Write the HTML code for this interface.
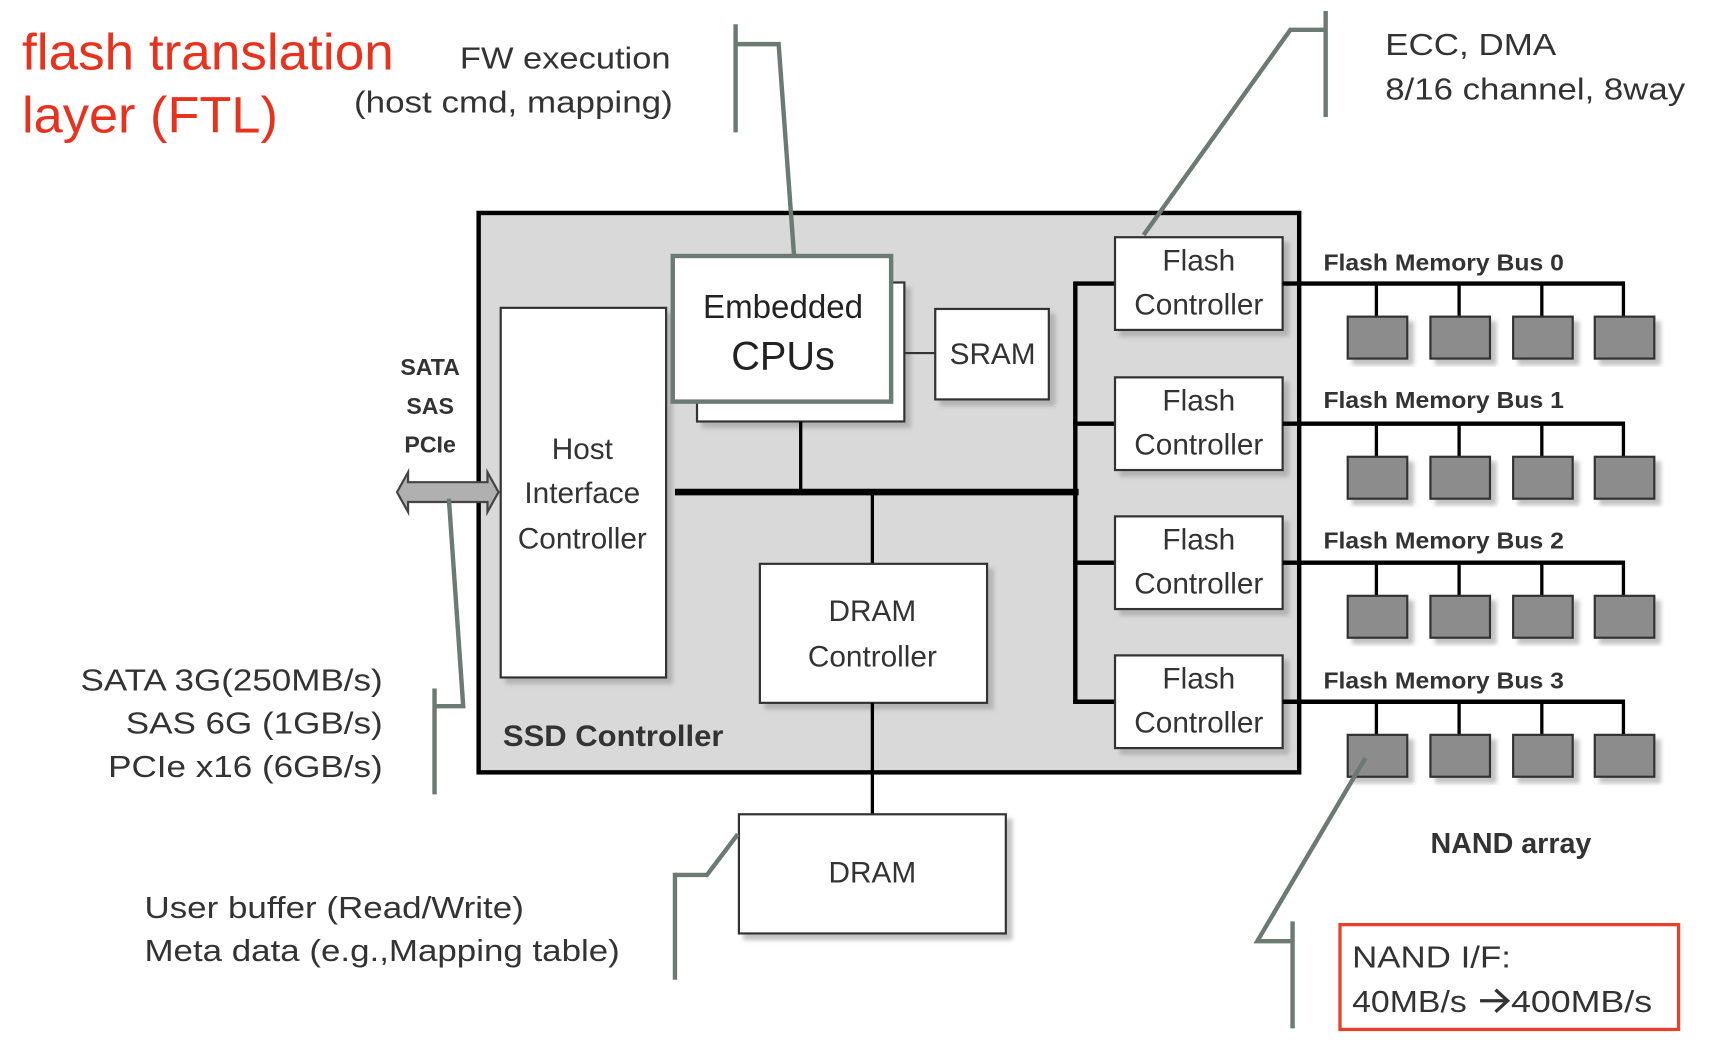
<!DOCTYPE html>
<html><head><meta charset="utf-8"><style>html,body{margin:0;padding:0;background:#fff}svg{display:block}</style></head>
<body>
<svg width="1726" height="1046" viewBox="0 0 1565 948" preserveAspectRatio="none" xmlns="http://www.w3.org/2000/svg" font-family="Liberation Sans, sans-serif">
<defs><filter id="sh" x="-10%" y="-10%" width="130%" height="130%"><feDropShadow dx="5" dy="5" stdDeviation="2" flood-color="#999" flood-opacity="0.6"/></filter></defs>
<rect width="1565" height="948" fill="#fff"/>
<text x="20" y="63" font-size="46" fill="#e8321e" textLength="337" lengthAdjust="spacingAndGlyphs">flash translation</text>
<text x="20" y="120" font-size="46" fill="#e8321e" textLength="232" lengthAdjust="spacingAndGlyphs">layer (FTL)</text>
<g font-size="28" fill="#333" lengthAdjust="spacingAndGlyphs">
<text x="417" y="62" textLength="191" lengthAdjust="spacingAndGlyphs">FW execution</text>
<text x="321" y="102" textLength="289" lengthAdjust="spacingAndGlyphs">(host cmd, mapping)</text>
<text x="1256" y="50" textLength="155" lengthAdjust="spacingAndGlyphs">ECC, DMA</text>
<text x="1256" y="90" textLength="272" lengthAdjust="spacingAndGlyphs">8/16 channel, 8way</text>
<text x="73" y="626" textLength="274" lengthAdjust="spacingAndGlyphs">SATA 3G(250MB/s)</text>
<text x="114" y="665" textLength="233" lengthAdjust="spacingAndGlyphs">SAS 6G (1GB/s)</text>
<text x="98" y="704" textLength="249" lengthAdjust="spacingAndGlyphs">PCIe x16 (6GB/s)</text>
<text x="131" y="832" textLength="344" lengthAdjust="spacingAndGlyphs">User buffer (Read/Write)</text>
<text x="131" y="871" textLength="431" lengthAdjust="spacingAndGlyphs">Meta data (e.g.,Mapping table)</text>
<text x="1226" y="877" textLength="144" lengthAdjust="spacingAndGlyphs">NAND I/F:</text>
<text x="1226" y="917" textLength="104" lengthAdjust="spacingAndGlyphs">40MB/s</text>
<text x="1370" y="917" textLength="128" lengthAdjust="spacingAndGlyphs">400MB/s</text>
</g>
<path d="M1342,907 L1366,907 M1356,897 L1367,907 L1356,917" fill="none" stroke="#333" stroke-width="3"/>
<rect x="434" y="193" width="744" height="507" fill="#d9d9d9" stroke="#000" stroke-width="4"/>
<rect x="454" y="279" width="150" height="335" fill="#fff" stroke="#333" stroke-width="2" filter="url(#sh)"/>
<g font-size="27" fill="#333" text-anchor="middle">
<text x="528" y="416">Host</text><text x="528" y="456">Interface</text><text x="528" y="497">Controller</text>
</g>
<rect x="632" y="256" width="188" height="126" fill="#fff" stroke="#333" stroke-width="2" filter="url(#sh)"/>
<rect x="610" y="232" width="198" height="132" fill="#fff" stroke="#6b7a72" stroke-width="4"/>
<text x="710" y="288" font-size="30" fill="#222" text-anchor="middle">Embedded</text>
<text x="710" y="335" font-size="36" fill="#222" text-anchor="middle">CPUs</text>
<line x1="820" y1="320" x2="848" y2="320" stroke="#333" stroke-width="2"/>
<rect x="848" y="280" width="103" height="82" fill="#fff" stroke="#333" stroke-width="2" filter="url(#sh)"/>
<text x="900" y="330" font-size="27" fill="#333" text-anchor="middle">SRAM</text>
<line x1="612" y1="446" x2="978" y2="446" stroke="#000" stroke-width="6"/>
<line x1="726" y1="382" x2="726" y2="446" stroke="#000" stroke-width="3"/>
<line x1="791" y1="446" x2="791" y2="511" stroke="#000" stroke-width="3"/>
<rect x="689" y="511" width="206" height="126" fill="#fff" stroke="#333" stroke-width="2" filter="url(#sh)"/>
<text x="791" y="563" font-size="27" fill="#333" text-anchor="middle">DRAM</text>
<text x="791" y="604" font-size="27" fill="#333" text-anchor="middle">Controller</text>
<line x1="791" y1="637" x2="791" y2="738" stroke="#000" stroke-width="3"/>
<rect x="670" y="738" width="242" height="108" fill="#fff" stroke="#333" stroke-width="2" filter="url(#sh)"/>
<text x="791" y="800" font-size="27" fill="#333" text-anchor="middle">DRAM</text>
<text x="456" y="676" font-size="27" font-weight="bold" fill="#333" textLength="200" lengthAdjust="spacingAndGlyphs">SSD Controller</text>
<line x1="975" y1="257" x2="975" y2="637" stroke="#000" stroke-width="4"/>
<g stroke="#000" stroke-width="4">
<line x1="973" y1="257" x2="1011" y2="257"/><line x1="973" y1="384" x2="1011" y2="384"/>
<line x1="973" y1="510" x2="1011" y2="510"/><line x1="973" y1="636" x2="1011" y2="636"/>
</g>
<g id="fc">
<rect x="1011" y="215" width="152" height="84" fill="#fff" stroke="#333" stroke-width="2" filter="url(#sh)"/>
<text x="1087" y="245" font-size="27" fill="#333" text-anchor="middle">Flash</text>
<text x="1087" y="285" font-size="27" fill="#333" text-anchor="middle">Controller</text>
<line x1="1163" y1="257" x2="1472" y2="257" stroke="#000" stroke-width="4"/>
<g stroke="#000" stroke-width="3"><line x1="1248" y1="257" x2="1248" y2="287"/><line x1="1323" y1="257" x2="1323" y2="287"/><line x1="1398" y1="257" x2="1398" y2="287"/><line x1="1472" y1="255" x2="1472" y2="287"/></g>
<g fill="#8c8c8c" stroke="#333" stroke-width="2" filter="url(#sh)">
<rect x="1222" y="287" width="54" height="38"/><rect x="1297" y="287" width="54" height="38"/><rect x="1372" y="287" width="54" height="38"/><rect x="1446" y="287" width="54" height="38"/>
</g>
</g>
<use href="#fc" y="127"/><use href="#fc" y="253"/><use href="#fc" y="379"/>
<g font-size="21" font-weight="bold" fill="#333">
<text x="1200" y="245" textLength="218" lengthAdjust="spacingAndGlyphs">Flash Memory Bus 0</text><text x="1200" y="370" textLength="218" lengthAdjust="spacingAndGlyphs">Flash Memory Bus 1</text>
<text x="1200" y="497" textLength="218" lengthAdjust="spacingAndGlyphs">Flash Memory Bus 2</text><text x="1200" y="624" textLength="218" lengthAdjust="spacingAndGlyphs">Flash Memory Bus 3</text>
</g>
<text x="1370" y="773" font-size="26" font-weight="bold" fill="#333" text-anchor="middle">NAND array</text>
<g font-size="21" font-weight="bold" fill="#333" text-anchor="middle">
<text x="390" y="340">SATA</text><text x="390" y="375">SAS</text><text x="390" y="410">PCIe</text>
</g>
<path d="M360,446 L370,428 L370,437 L442,437 L442,428 L452,446 L442,464 L442,455 L370,455 L370,464 Z" fill="#b0b0b0" stroke="#444" stroke-width="2"/>
<g fill="none" stroke="#6b7a72" stroke-width="4">
<polyline points="667,22 667,120"/><polyline points="667,40 706,40 720,232"/>
<polyline points="1202,10 1202,106"/><polyline points="1202,27 1170,27 1037,213"/>
<polyline points="394,624 394,720"/><polyline points="394,640 420,640 407,452"/>
<polyline points="612,791 612,888"/><polyline points="612,793 641,793 669,756"/>
<polyline points="1172,835 1172,932"/><polyline points="1238,687 1140,853 1172,853"/>
</g>
<rect x="1215" y="838" width="307" height="95" fill="none" stroke="#e8412b" stroke-width="3"/>
</svg>
</body></html>
